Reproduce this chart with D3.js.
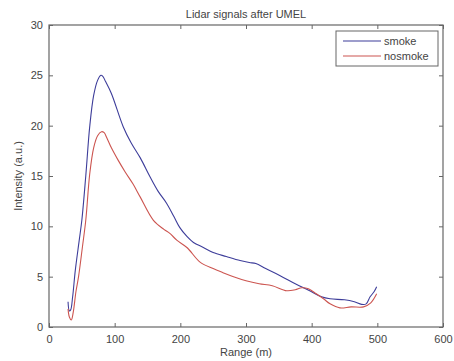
<!DOCTYPE html>
<html>
<head>
<meta charset="utf-8">
<script src="https://cdn.jsdelivr.net/npm/d3@7"></script>
<style>
  body { margin: 0; background: #fff; }
  svg { display: block; font-family: "Liberation Sans", Arial, sans-serif; }
</style>
</head>
<body>
<div id="chart"></div>
<script>
// values
const smokeRange = [29, 31, 33, 36, 40, 46, 50, 56, 62, 68, 74, 79, 82, 86, 95, 113, 125, 139, 154, 166, 179, 190, 199, 210, 220, 235, 250, 270, 291, 305, 315, 330, 352, 375, 397, 415, 428, 450, 465, 476, 483, 489, 495, 499];
const smokeVals  = [2.5, 1.6, 1.7, 3.0, 5.6, 8.6, 10.6, 15.0, 19.9, 23.0, 24.5, 25.0, 24.9, 24.4, 23.2, 19.9, 18.3, 16.8, 14.9, 13.5, 12.3, 11.0, 9.9, 9.0, 8.4, 7.9, 7.4, 7.0, 6.6, 6.4, 6.3, 5.8, 5.1, 4.3, 3.6, 3.0, 2.8, 2.7, 2.5, 2.25, 2.3, 3.0, 3.5, 4.0];

const nosmokeRange = [29, 31, 34, 37, 41, 45, 51, 56, 62, 68, 74, 80, 84, 88, 95, 105, 116, 128, 139, 159, 175, 184, 195, 210, 230, 250, 265, 281, 300, 320, 340, 362, 375, 385, 395, 407, 418, 428, 443, 460, 479, 490, 499];
const nosmokeVals  = [1.8, 1.0, 0.7, 1.5, 3.5, 5.0, 8.0, 10.6, 15.2, 17.8, 19.0, 19.4, 19.3, 18.8, 17.8, 16.6, 15.4, 14.2, 12.9, 10.6, 9.7, 9.3, 8.6, 7.9, 6.45, 5.8, 5.4, 5.0, 4.6, 4.3, 4.1, 3.6, 3.7, 3.9, 3.8, 3.3, 2.8, 2.3, 1.9, 2.0, 2.0, 2.4, 3.3];

const xTicks = [0, 100, 200, 300, 400, 500, 600];
const yTicks = [0, 5, 10, 15, 20, 25, 30];
const seriesNames = ["smoke", "nosmoke"];
const seriesColors = ["#3d3d9a", "#cc5550"];

const width = 454, height = 361;
const margin = {top: 25, right: 11, bottom: 34, left: 49};
const innerW = width - margin.left - margin.right;
const innerH = height - margin.top - margin.bottom;

const svg = d3.select("#chart").append("svg")
  .attr("width", width)
  .attr("height", height);

const g = svg.append("g")
  .attr("transform", "translate(" + margin.left + "," + margin.top + ")");

const x = d3.scaleLinear().domain([0, 600]).range([0, innerW]);
const y = d3.scaleLinear().domain([0, 30]).range([innerH, 0]);

const axisColor = "#666";
const textColor = "#444";

// frame
g.append("rect")
  .attr("width", innerW)
  .attr("height", innerH)
  .attr("fill", "none")
  .attr("stroke", axisColor)
  .attr("stroke-width", 1.2);

// bottom / left axes with inward ticks
const xAxis = g.append("g")
  .attr("transform", "translate(0," + innerH + ")")
  .call(d3.axisBottom(x).tickValues(xTicks).tickSize(-4).tickPadding(8));
const yAxis = g.append("g")
  .call(d3.axisLeft(y).tickValues(yTicks).tickSize(-4).tickPadding(6));
// top / right mirrored ticks
const xTop = g.append("g")
  .call(d3.axisTop(x).tickValues(xTicks).tickSize(-4).tickFormat(""));
const yRight = g.append("g")
  .attr("transform", "translate(" + innerW + ",0)")
  .call(d3.axisRight(y).tickValues(yTicks).tickSize(-4).tickFormat(""));

[xAxis, yAxis, xTop, yRight].forEach(a => {
  a.select(".domain").remove();
  a.selectAll(".tick line").attr("stroke", axisColor);
  a.selectAll("text")
    .attr("fill", textColor)
    .style("font-size", "11px");
});

// curves
const line = d3.line()
  .x(d => x(d[0]))
  .y(d => y(d[1]))
  .curve(d3.curveCatmullRom.alpha(0.5));

const series = [
  d3.zip(smokeRange, smokeVals),
  d3.zip(nosmokeRange, nosmokeVals)
];

g.selectAll(".curve")
  .data(series)
  .enter()
  .append("path")
  .attr("class", "curve")
  .attr("d", line)
  .attr("fill", "none")
  .attr("stroke", (d, i) => seriesColors[i])
  .attr("stroke-width", 1.1);

// title and axis labels
svg.append("text")
  .attr("x", margin.left + innerW / 2)
  .attr("y", 18)
  .attr("text-anchor", "middle")
  .attr("fill", textColor)
  .style("font-size", "11px")
  .text("Lidar signals after UMEL");

svg.append("text")
  .attr("x", margin.left + innerW / 2)
  .attr("y", 356)
  .attr("text-anchor", "middle")
  .attr("fill", textColor)
  .style("font-size", "11px")
  .text("Range (m)");

svg.append("text")
  .attr("transform", "translate(22," + (margin.top + innerH / 2) + ") rotate(-90)")
  .attr("text-anchor", "middle")
  .attr("fill", textColor)
  .style("font-size", "11px")
  .text("Intensity (a.u.)");

// legend
const legend = svg.append("g").attr("transform", "translate(336,31)");
legend.append("rect")
  .attr("width", 102)
  .attr("height", 35)
  .attr("fill", "#fff")
  .attr("stroke", axisColor);

const items = legend.selectAll(".item")
  .data(seriesNames)
  .enter()
  .append("g")
  .attr("transform", (d, i) => "translate(0," + (10 + i * 15) + ")");

items.append("line")
  .attr("x1", 7).attr("x2", 45)
  .attr("stroke", (d, i) => seriesColors[i])
  .attr("stroke-width", 1.1);

items.append("text")
  .attr("x", 48)
  .attr("dy", "0.35em")
  .attr("fill", textColor)
  .style("font-size", "11px")
  .text(d => d);
</script>
</body>
</html>
